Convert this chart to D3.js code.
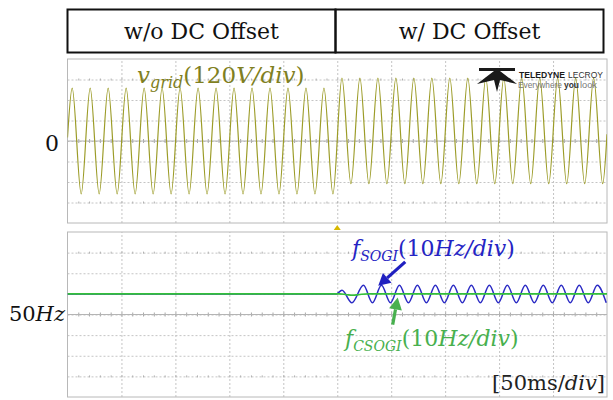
<!DOCTYPE html>
<html lang="en">
<head>
<meta charset="utf-8">
<title>SOGI vs CSOGI frequency estimate with DC offset</title>
<script src="https://d3js.org/d3.v7.min.js"></script>
<style>
  body { margin: 0; background: #fff; }
  svg { display: block; }
  .serif { font-family: "DejaVu Serif", serif; }
  .math { font-family: "DejaVu Serif", serif; }
  .sans { font-family: "Liberation Sans", Arial, sans-serif; }
</style>
</head>
<body>
<script>

// ---- data read off the scope shot ----
// time base: 50 ms/div, 10 divisions
var timeDomain = [0, 500];
var headerLabels = ["w/o DC Offset", "w/ DC Offset"];

// v_grid (V): one extremum per half cycle, first peak at 4.35 ms, 60 Hz
var vgridFirstPeakMs = 4.35;
var vgridHalfPeriodMs = 8.333;
var vgridStart = [0, 20];
var vgridExtrema = [
  310, -310, 310, -310, 310, -310, 310, -310, 310, -310,
  310, -310, 310, -310, 310, -310, 310, -310, 310, -310,
  310, -310, 310, -310, 310, -310, 310, -310, 310, -310,
  // DC offset switched on
  368, -250, 368, -250, 368, -250, 368, -250, 368, -250,
  368, -250, 368, -250, 368, -250, 368, -250, 368, -250,
  368, -250, 368, -250, 368, -250, 368, -250, 368, -250
];
var vgridEnd = [500, 40];

// f_SOGI (Hz): flat, then transient, then ripple at grid frequency
var fSogiHead = [[0, 60], [249, 60], [254.4, 61.7], [263.6, 55.7]];
var fSogiRippleStartMs = 274.3;
var fSogiRipple = [
  64.2, 55.7, 64.2, 55.7, 64.2, 55.7, 64.2, 55.7, 64.2, 55.7,
  64.2, 55.7, 64.2, 55.7, 64.2, 55.7, 64.2, 55.7, 64.2, 55.7,
  64.2, 55.7, 64.2, 55.7, 64.2, 55.7, 64.2, 55.7
];

// f_CSOGI (Hz): small dip, then flat
var fCsogi = [[0, 60], [252, 60], [258, 59.7], [264, 59.3], [271, 59.7], [279, 60], [500, 60]];

// ---- layout ----
var w = 613, h = 400;
var x0 = 67.5, x1 = 607;
var upper = { top: 59, bottom: 223 };
var lower = { top: 232, bottom: 397 };

var svg = d3.select("body").append("svg")
            .attr("width", w)
            .attr("height", h);

var x = d3.scaleLinear().domain(timeDomain).range([x0, x1]);
var yV = d3.scaleLinear().domain([-480, 480]).range([upper.bottom, upper.top]);
var yF = d3.scaleLinear().domain([10, 90]).range([lower.bottom, lower.top]);

// ---- header boxes ----
var hx = d3.scaleBand().domain(headerLabels).range([67.5, 603.5]);
var header = svg.append("g");
header.selectAll("rect")
  .data(headerLabels)
  .enter()
  .append("rect")
  .attr("x", function(d) { return hx(d); })
  .attr("y", 9.5)
  .attr("width", hx.bandwidth())
  .attr("height", 43)
  .attr("fill", "none")
  .attr("stroke", "#111")
  .attr("stroke-width", 2);
header.selectAll("text")
  .data(headerLabels)
  .enter()
  .append("text")
  .text(function(d) { return d; })
  .attr("class", "serif")
  .attr("x", function(d) { return hx(d) + hx.bandwidth() / 2; })
  .attr("y", 39)
  .attr("text-anchor", "middle")
  .attr("font-size", "22px")
  .attr("fill", "#111");

// ---- scope grid ----
function drawGrid(panel, y, domain) {
  var g = svg.append("g");
  var step = (domain[1] - domain[0]) / 8;
  var mid = (domain[0] + domain[1]) / 2;

  // vertical divisions
  g.append("g")
   .attr("transform", "translate(0," + panel.bottom + ")")
   .call(d3.axisBottom(x).tickValues(d3.range(50, 500, 50)).tickSize(-(panel.bottom - panel.top)).tickFormat(""))
   .call(function(a) { a.select(".domain").remove(); })
   .selectAll("line")
   .attr("stroke", "#c4c4c4")
   .attr("stroke-dasharray", "2,2");

  // horizontal divisions
  g.append("g")
   .attr("transform", "translate(" + x0 + ",0)")
   .call(d3.axisLeft(y).tickValues(d3.range(domain[0] + step, domain[1], step)).tickSize(-(x1 - x0)).tickFormat(""))
   .call(function(a) { a.select(".domain").remove(); })
   .selectAll("line")
   .attr("stroke", "#c4c4c4")
   .attr("stroke-dasharray", "2,2");

  // centre line with minor ticks
  g.append("g")
   .attr("transform", "translate(0," + (y(mid) + 2) + ")")
   .call(d3.axisTop(x).tickValues(d3.range(10, 500, 10)).tickSize(4).tickSizeOuter(0).tickFormat(""))
   .call(function(a) {
     a.select(".domain").attr("stroke", "none");
     a.selectAll("line").attr("stroke", "#a8a8a8");
   });
  g.append("line")
   .attr("x1", x0).attr("x2", x1)
   .attr("y1", y(mid)).attr("y2", y(mid))
   .attr("stroke", "#b4b4b4");

  // dot rows at +/-3 div
  [mid + 3 * step, mid - 3 * step].forEach(function(v) {
    g.append("g")
     .attr("transform", "translate(0," + (y(v) + 1) + ")")
     .call(d3.axisTop(x).tickValues(d3.range(10, 500, 10)).tickSize(2).tickSizeOuter(0).tickFormat(""))
     .call(function(a) {
       a.select(".domain").attr("stroke", "none");
       a.selectAll("line").attr("stroke", "#b0b0b0");
     });
  });

  // border
  g.append("rect")
   .attr("x", x0).attr("y", panel.top)
   .attr("width", x1 - x0).attr("height", panel.bottom - panel.top)
   .attr("fill", "none")
   .attr("stroke", "#b8b8b8");
}
drawGrid(upper, yV, [-480, 480]);
drawGrid(lower, yF, [10, 90]);

// clip paths
var defs = svg.append("defs");
[["clipU", upper], ["clipL", lower]].forEach(function(c) {
  defs.append("clipPath").attr("id", c[0])
      .append("rect")
      .attr("x", x0).attr("y", c[1].top)
      .attr("width", x1 - x0).attr("height", c[1].bottom - c[1].top);
});

// ---- traces ----
var vgridPts = [vgridStart].concat(vgridExtrema.map(function(v, k) {
  return [vgridFirstPeakMs + k * vgridHalfPeriodMs, v];
})).concat([vgridEnd]);

var lineV = d3.line()
  .x(function(d) { return x(d[0]); })
  .y(function(d) { return yV(d[1]); })
  .curve(d3.curveMonotoneX);

svg.append("path")
   .datum(vgridPts)
   .attr("clip-path", "url(#clipU)")
   .attr("d", lineV)
   .attr("fill", "none")
   .attr("stroke", "#9c9c28")
   .attr("stroke-width", 1.2);

var fSogiPts = fSogiHead.concat(fSogiRipple.map(function(v, k) {
  return [fSogiRippleStartMs + k * vgridHalfPeriodMs, v];
}));

var lineF = d3.line()
  .x(function(d) { return x(d[0]); })
  .y(function(d) { return yF(d[1]); })
  .curve(d3.curveMonotoneX);

svg.append("path")
   .datum(fSogiPts)
   .attr("clip-path", "url(#clipL)")
   .attr("d", lineF)
   .attr("fill", "none")
   .attr("stroke", "#2b2bc4")
   .attr("stroke-width", 1.5);

svg.append("path")
   .datum(fCsogi)
   .attr("clip-path", "url(#clipL)")
   .attr("d", lineF)
   .attr("fill", "none")
   .attr("stroke", "#33c03a")
   .attr("stroke-width", 1.6);

// trigger marker
svg.append("path")
   .attr("d", "M" + x(250) + "," + (lower.top - 7) + "l3.5,5h-7z")
   .attr("fill", "#d8b800");

// ---- labels ----
svg.append("text")
   .text("0")
   .attr("class", "serif")
   .attr("x", 59).attr("y", 151)
   .attr("text-anchor", "end")
   .attr("font-size", "22px")
   .attr("fill", "#111");

var hz = svg.append("text")
   .attr("class", "math")
   .attr("x", 65).attr("y", 321)
   .attr("text-anchor", "end")
   .attr("font-size", "21px")
   .attr("fill", "#111");
hz.append("tspan").text("50");
hz.append("tspan").text("Hz").attr("font-style", "italic");

function mathLabel(px, py, main, sub, rest, color, size, subSize) {
  var t = svg.append("text")
     .attr("class", "math")
     .attr("x", px).attr("y", py)
     .attr("font-size", size + "px")
     .attr("fill", color);
  t.append("tspan").text(main).attr("font-style", "italic");
  t.append("tspan").text(sub).attr("font-style", "italic")
   .attr("font-size", subSize + "px").attr("dy", 5);
  t.append("tspan").text("(" + rest[0]).attr("dy", -5);
  t.append("tspan").text(rest[1]).attr("font-style", "italic");
  t.append("tspan").text(")");
  return t;
}
mathLabel(137, 83, "v", "grid", ["120", "V/div"], "#7f7f22", 23, 16);
mathLabel(352, 256, "f", "SOGI", ["10", "Hz/div"], "#2424c4", 22, 14);
mathLabel(345, 346, "f", "CSOGI", ["10", "Hz/div"], "#48b04e", 22, 14);

var tb = svg.append("text")
   .attr("class", "math")
   .attr("x", 605).attr("y", 390)
   .attr("text-anchor", "end")
   .attr("font-size", "21px")
   .attr("fill", "#222");
tb.append("tspan").text("[50ms/");
tb.append("tspan").text("div").attr("font-style", "italic");
tb.append("tspan").text("]");

// ---- arrows ----
function arrow(tipT, tipF, dx, dy, color) {
  var tx = x(tipT), ty = yF(tipF);
  var len = Math.sqrt(dx * dx + dy * dy);
  var ux = dx / len, uy = dy / len;
  var head = 12, half = 6.5;
  var bx = tx + ux * head, by = ty + uy * head;
  svg.append("line")
     .attr("x1", bx).attr("y1", by)
     .attr("x2", tx + dx).attr("y2", ty + dy)
     .attr("stroke", color).attr("stroke-width", 3.2);
  svg.append("path")
     .attr("d", "M" + tx + "," + ty +
                "L" + (bx - uy * half) + "," + (by + ux * half) +
                "L" + (bx + uy * half) + "," + (by - ux * half) + "Z")
     .attr("fill", color);
}
arrow(288, 63.9, 27, -24, "#2020c0");
arrow(306, 58.2, -5, 27, "#48b04e");

// ---- scope logo ----
var logo = svg.append("g");
logo.append("path")
    .attr("d", "M479,68 L515,68 L515,71 L500,71 L517,84 L500,80 L497,92 L494,80 L477,84 L494,71 L479,71 Z")
    .attr("fill", "#1a1a1a");
function logoText(txt, px, py, len, size, weight, color) {
  logo.append("text")
      .attr("class", "sans")
      .text(txt)
      .attr("x", px).attr("y", py)
      .attr("font-size", size + "px")
      .attr("font-weight", weight)
      .attr("textLength", len)
      .attr("lengthAdjust", "spacingAndGlyphs")
      .attr("fill", color);
}
logoText("TELEDYNE", 519, 78, 46, 9, "bold", "#1a1a1a");
logoText("LECROY", 568, 78, 35, 9, "normal", "#333");
logoText("Everywhere", 518, 88, 44, 8.5, "normal", "#777");
logoText("you", 564, 88, 15, 8.5, "bold", "#333");
logoText("look", 580, 88, 17, 8.5, "normal", "#777");

</script>
</body>
</html>
